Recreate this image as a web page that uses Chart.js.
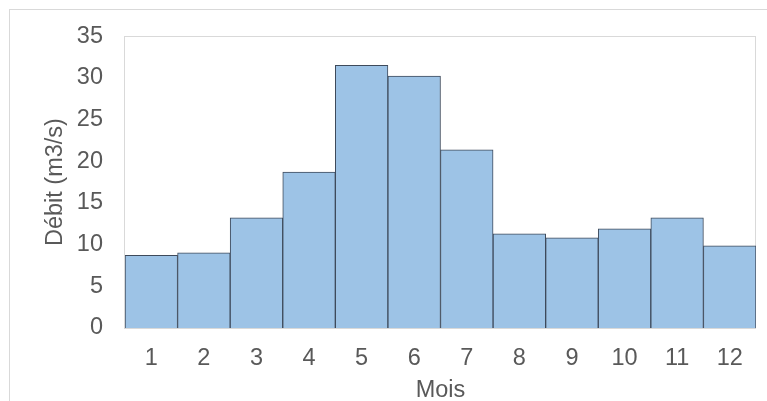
<!DOCTYPE html>
<html>
<head>
<meta charset="utf-8">
<script src="https://cdn.jsdelivr.net/npm/chart.js@4"></script>
<style>
  html, body { margin: 0; padding: 0; background: #fff; }
  #wrap { width: 767px; height: 401px; position: relative; }
</style>
</head>
<body>
<div id="wrap"><canvas id="graficoDebit" width="767" height="401"></canvas></div>
<script>
const mois = ["1", "2", "3", "4", "5", "6", "7", "8", "9", "10", "11", "12"];
const debit = [8.7, 9.0, 13.2, 18.7, 31.5, 30.2, 21.35, 11.3, 10.8, 11.9, 13.2, 9.85];
const yTicks = [0, 5, 10, 15, 20, 25, 30, 35];

const police = "'Liberation Sans', Arial, sans-serif";
const gris = "#595959";
const taille = 23.5;

// cadre gris clair autour du graphique et de la zone de tracé
const cadres = {
  id: "cadres",
  beforeDraw(chart) {
    const c = chart.ctx;
    c.save();
    c.fillStyle = "#fff";
    c.fillRect(0, 0, chart.width, chart.height);
    c.strokeStyle = "#D9D9D9";
    c.lineWidth = 1;
    c.strokeRect(9.5, 9.5, 900, 600);
    c.restore();
  },
  beforeDatasetsDraw(chart) {
    const a = chart.chartArea;
    const c = chart.ctx;
    c.save();
    c.strokeStyle = "#D9D9D9";
    c.lineWidth = 1;
    c.strokeRect(Math.round(a.left) - 0.5, Math.round(a.top) + 0.5, Math.round(a.right - a.left), Math.round(a.bottom - a.top));
    c.restore();
  }
};

const ctx = document.getElementById("graficoDebit");

new Chart(ctx, {
  type: "bar",
  data: {
    labels: mois,
    datasets: [
      {
        label: "Débit",
        data: debit,
        backgroundColor: "#9DC3E6",
        borderColor: "#3E4A5B",
        borderWidth: 1,
        barPercentage: 1,
        categoryPercentage: 1
      }
    ]
  },
  options: {
    responsive: false,
    animation: false,
    layout: { padding: { top: 33, right: 11, left: 0, bottom: 0 } },
    plugins: {
      legend: { display: false },
      tooltip: { enabled: false }
    },
    scales: {
      x: {
        grid: { display: false, drawTicks: false },
        border: { display: false },
        ticks: { color: gris, font: { family: police, size: taille }, padding: 16 },
        title: {
          display: true,
          text: "Mois",
          color: gris,
          font: { family: police, size: taille },
          padding: { top: 0, bottom: -4 }
        },
        afterFit(scale) { scale.height = 73; }
      },
      y: {
        min: 0,
        max: 35,
        afterBuildTicks(scale) { scale.ticks = yTicks.map(v => ({ value: v })); },
        grid: { display: false, drawTicks: false },
        border: { display: false },
        ticks: { color: gris, font: { family: police, size: taille }, padding: 22 },
        title: {
          display: true,
          text: "Débit (m3/s)",
          color: gris,
          font: { family: police, size: taille },
          padding: { top: 41, bottom: 0 }
        },
        afterFit(scale) { scale.width = 125; }
      }
    }
  },
  plugins: [cadres]
});
</script>
</body>
</html>
